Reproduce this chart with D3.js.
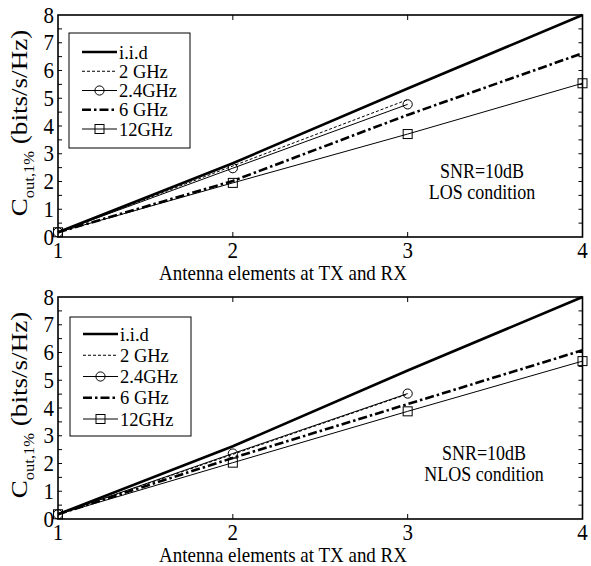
<!DOCTYPE html>
<html><head><meta charset="utf-8">
<script src="https://cdn.jsdelivr.net/npm/d3@7"></script>
<style>body{margin:0;background:#fff}svg{display:block}text{font-family:"Liberation Serif","Times New Roman",serif;fill:#000}</style>
</head><body>
<script>
const xTicks = [1, 2, 3, 4];
const yTicks = [0, 1, 2, 3, 4, 5, 6, 7, 8];
const seriesNames = ["i.i.d", "2 GHz", "2.4GHz", "6 GHz", "12GHz"];
const xValsFull = [1, 2, 3, 4];
const xValsShort = [1, 2, 3];
// LOS panel
const losIid = [0.17, 2.66, 5.35, 8.0];
const los2 = [0.17, 2.56, 4.95];
const los24 = [0.17, 2.48, 4.78];
const los6 = [0.17, 2.02, 4.4, 6.62];
const los12 = [0.17, 1.95, 3.71, 5.54];
// NLOS panel
const nlosIid = [0.17, 2.62, 5.35, 8.0];
const nlos2 = [0.17, 2.33, 4.5];
const nlos24 = [0.17, 2.36, 4.52];
const nlos6 = [0.17, 2.2, 4.14, 6.08];
const nlos12 = [0.17, 2.03, 3.88, 5.69];
const panelNotes = [["SNR=10dB", "LOS condition"], ["SNR=10dB", "NLOS condition"]];
const xLabel = "Antenna elements at TX and RX";

const W = 591, H = 566;
const SY = 1.12;
const svg = d3.select("body").append("svg").attr("width", W).attr("height", H);

const styles = [
  {w: 2.6, dash: null, marker: null},
  {w: 1, dash: "3,2", marker: null},
  {w: 1, dash: null, marker: "circle"},
  {w: 2.6, dash: "9,3,2.5,3", marker: null},
  {w: 1, dash: null, marker: "square"}
];

const panels = [
  {top: 15, bottom: 237, data: [losIid, los2, los24, los6, los12], note: panelNotes[0], noteX: 482, noteY: 178, leg: {x: 69, y: 33, w: 121, h: 115, rowY: 52}},
  {top: 297, bottom: 519, data: [nlosIid, nlos2, nlos24, nlos6, nlos12], note: panelNotes[1], noteX: 484, noteY: 460, leg: {x: 70, y: 317, w: 121, h: 119, rowY: 334}}
];

function drawMarker(g, type, cx, cy) {
  if (type === "circle") {
    g.append("circle").attr("cx", cx).attr("cy", cy).attr("r", 4.6)
      .attr("fill", "none").attr("stroke", "#000").attr("stroke-width", 1);
  } else if (type === "square") {
    g.append("rect").attr("x", cx - 4.5).attr("y", cy - 4.5).attr("width", 9).attr("height", 9)
      .attr("fill", "none").attr("stroke", "#000").attr("stroke-width", 1);
  }
}

function stext(g, x, y, size, anchor, txt, sy) {
  return g.append("text").attr("transform", `translate(${x},${y}) scale(1,${sy === undefined ? SY : sy})`)
    .attr("text-anchor", anchor).attr("font-size", size).text(txt);
}

panels.forEach((p, pi) => {
  const x = d3.scaleLinear().domain([1, 4]).range([58, 582.5]);
  const y = d3.scaleLinear().domain([0, 8]).range([p.bottom, p.top]);
  const g = svg.append("g");

  const yMinor = d3.range(0, 8.01, 0.5);
  yMinor.forEach(v => {
    if (v === 0 || v === 8) return;
    g.append("line").attr("x1", x(1)).attr("x2", x(1) + 4).attr("y1", y(v)).attr("y2", y(v)).attr("stroke", "#000").attr("stroke-width", 1);
    g.append("line").attr("x1", x(4)).attr("x2", x(4) - 4).attr("y1", y(v)).attr("y2", y(v)).attr("stroke", "#000").attr("stroke-width", 1);
  });
  xTicks.forEach(v => {
    if (v === 1 || v === 4) return;
    g.append("line").attr("x1", x(v)).attr("x2", x(v)).attr("y1", y(0)).attr("y2", y(0) - 5).attr("stroke", "#000");
    g.append("line").attr("x1", x(v)).attr("x2", x(v)).attr("y1", y(8)).attr("y2", y(8) + 5).attr("stroke", "#000");
  });

  yTicks.forEach(v => {
    stext(g, x(1) - 4, y(v) + 7.5, 21, "end", v);
  });
  xTicks.forEach(v => {
    stext(g, x(v), p.bottom + 21, 21, "middle", v);
  });

  p.data.forEach((vals, si) => {
    const xs = vals.length === 4 ? xValsFull : xValsShort;
    const pts = vals.map((v, i) => [x(xs[i]), y(v)]);
    const st = styles[si];
    g.append("path").attr("d", d3.line()(pts)).attr("fill", "none").attr("stroke", "#000")
      .attr("stroke-width", st.w).attr("stroke-dasharray", st.dash);
    if (st.marker) pts.forEach(pt => drawMarker(g, st.marker, pt[0], pt[1]));
  });

  g.append("rect").attr("x", x(1)).attr("y", y(8)).attr("width", x(4) - x(1)).attr("height", y(0) - y(8))
    .attr("fill", "none").attr("stroke", "#000").attr("stroke-width", 1.6);

  const L = p.leg;
  g.append("rect").attr("x", L.x).attr("y", L.y).attr("width", L.w).attr("height", L.h)
    .attr("fill", "#fff").attr("stroke", "#000").attr("stroke-width", 1);
  const rowH = (L.h - 2 * (L.rowY - L.y)) / 4;
  seriesNames.forEach((name, si) => {
    const ry = L.rowY + si * rowH;
    const st = styles[si];
    g.append("line").attr("x1", L.x + 13).attr("x2", L.x + 48).attr("y1", ry).attr("y2", ry)
      .attr("stroke", "#000").attr("stroke-width", st.w).attr("stroke-dasharray", st.dash);
    if (st.marker) drawMarker(g, st.marker, L.x + 30.5, ry);
    stext(g, L.x + 50, ry + 6.5, 18.5, "start", name, 1);
  });

  p.note.forEach((t, i) => {
    stext(g, p.noteX, p.noteY + i * 21, 18, "middle", t);
  });

  stext(g, 283, p.bottom + 43, 19, "middle", xLabel);

  const cy = (p.top + p.bottom) / 2 - 3;
  const yl = g.append("text").attr("transform", `translate(27,${cy}) rotate(-90) scale(1.18,1)`).attr("text-anchor", "middle").attr("font-size", 23);
  yl.append("tspan").text("C");
  yl.append("tspan").attr("font-size", 14).attr("dy", 7).text("out,1%");
  yl.append("tspan").attr("dy", -7).text(" (bits/s/Hz)");
});
</script>
</body></html>
